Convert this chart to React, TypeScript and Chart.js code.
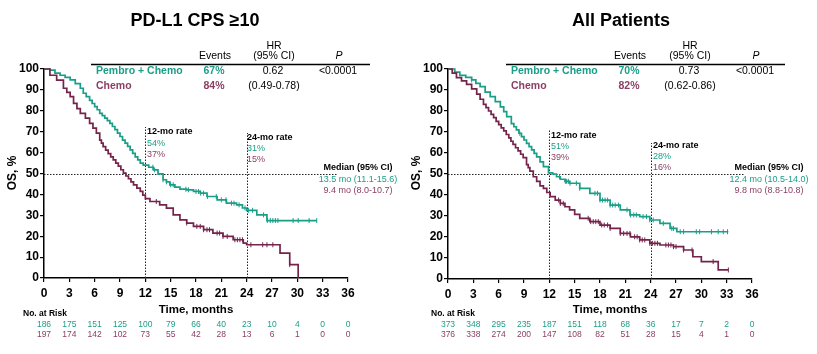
import React, { useEffect, useRef } from "react";
import { Chart, registerables } from "chart.js";
Chart.register(...registerables);

const TEAL = "#1a9e88";
const MAROON = "#74234b";
const MAROON_TEXT = "#8a4064";
const FONT = '"Liberation Sans", Arial, sans-serif';

const xTickStep = 3;

// ---------- PD-L1 CPS >= 10 ----------
const cpsPembroT = [0, 0.7, 1.3, 1.9, 2.5, 3.1, 3.7, 4.3, 4.65, 5.0, 5.4, 5.7, 6.0, 6.3, 6.6, 6.9, 7.2, 7.5, 7.8, 8.1, 8.4, 8.7, 9.0, 9.3, 9.6, 9.9, 10.2, 10.5, 10.8, 11.1, 11.4, 11.75, 12.4, 12.95, 13.5, 14.1, 14.5, 14.9, 15.5, 16.1, 16.9, 17.7, 18.5, 19.3, 20.5, 21.6, 22.8, 23.5, 24.0, 25.2, 26.4, 32.3];
const cpsPembroS = [100, 99.5, 98, 97, 96, 94.8, 93, 90.8, 88.4, 86.8, 85, 83.5, 82, 80.5, 78.8, 77.7, 76.5, 75.3, 74, 72.5, 71, 69.3, 67.7, 66, 64.5, 63, 61.3, 59.6, 58, 56.5, 55, 54, 53, 51.7, 49.8, 47, 46, 44.6, 43.5, 42.5, 42.2, 41.4, 40.6, 39, 37.4, 35.8, 35, 33.5, 32.4, 30.2, 27.5, 27.5];
const cpsPembroCens = [12.9, 13.1, 14.1, 14.5, 15.0, 15.3, 16.8, 17.1, 18.0, 18.3, 18.55, 18.9, 19.35, 20.4, 21.0, 21.55, 22.2, 22.5, 23.1, 23.8, 24.2, 24.7, 26.0, 26.45, 26.8, 27.1, 27.4, 27.7, 29.5, 30.1, 31.4, 32.3];
const cpsChemoT = [0, 0.7, 1.5, 2.3, 2.7, 3.1, 3.5, 3.9, 4.3, 4.9, 5.4, 5.8, 6.2, 6.6, 6.8, 7.0, 7.3, 7.6, 7.9, 8.2, 8.5, 8.8, 9.1, 9.4, 9.7, 10.0, 10.3, 10.6, 11.0, 11.4, 11.7, 12.0, 12.55, 13.7, 14.5, 15.3, 16.1, 16.9, 17.7, 18.9, 20.0, 21.2, 22.4, 23.6, 24.0, 27.95, 29.1, 30.1];
const cpsChemoS = [100, 97, 94.7, 90.8, 88.8, 86.8, 83.6, 81, 78.8, 76.5, 74, 71.7, 69.3, 66, 64.5, 62.9, 61.2, 59.5, 58, 56.5, 55, 53.5, 51.8, 50.2, 48.8, 47.5, 46, 44.6, 43, 41.4, 39.7, 38, 36.6, 35, 33.4, 30.2, 27.8, 26.3, 24.7, 23.1, 21.5, 19.9, 18.3, 16.7, 15.9, 11.9, 6.4, 0];
const cpsChemoCens = [13.3, 16.9, 18.1, 18.5, 18.9, 19.3, 19.6, 20.5, 20.8, 21.2, 21.7, 22.6, 22.9, 23.2, 23.5, 24.5, 25.9, 26.4, 27.1, 29.1];
const cpsRiskPembro = [186, 175, 151, 125, 100, 79, 66, 40, 23, 10, 4, 0, 0];
const cpsRiskChemo = [197, 174, 142, 102, 73, 55, 42, 28, 13, 6, 1, 0, 0];

// ---------- All Patients ----------
const allPembroT = [0, 0.8, 1.4, 2.1, 2.8, 3.3, 3.8, 4.4, 5.0, 5.6, 6.2, 6.6, 6.95, 7.5, 7.8, 8.1, 8.4, 8.7, 9.0, 9.3, 9.6, 9.9, 10.2, 10.5, 10.9, 11.3, 11.9, 12.4, 12.85, 13.3, 13.85, 14.4, 15.6, 16.8, 18.0, 19.2, 20.4, 21.55, 22.7, 23.9, 25.1, 26.3, 27.1, 33.2];
const allPembroS = [100, 98.5, 97, 96, 94.8, 93.2, 91.6, 89, 86.8, 84.5, 82, 79.7, 77.3, 74, 72.5, 71, 69.4, 67.8, 66.2, 64.6, 63, 61.5, 59.8, 58.2, 55.8, 53.5, 50.5, 50, 48.7, 47.5, 46.5, 45.6, 43.2, 40.8, 37.6, 35.2, 32.9, 30.5, 29.7, 28.1, 26.5, 24.1, 22.5, 22.5];
const allPembroCens = [2.8, 8.5, 13.2, 13.9, 14.05, 14.25, 14.45, 15.2, 15.6, 17.4, 17.7, 18.0, 18.3, 18.6, 18.9, 19.2, 19.5, 19.8, 20.2, 21.2, 21.6, 22.0, 22.3, 23.1, 23.5, 23.9, 24.3, 25.5, 26.5, 26.7, 27.5, 27.9, 29.4, 29.8, 31.2, 32.0, 32.6, 33.1];
const allChemoT = [0, 0.5, 1.0, 1.6, 2.2, 2.8, 3.4, 3.8, 4.2, 4.5, 4.8, 5.1, 5.4, 5.7, 6.0, 6.3, 6.6, 6.9, 7.2, 7.45, 7.7, 8.0, 8.3, 8.6, 8.9, 9.3, 9.5, 9.7, 10.1, 10.5, 10.9, 11.3, 11.7, 12.1, 12.7, 13.3, 13.85, 14.4, 15.0, 15.6, 16.8, 18.0, 19.2, 20.4, 21.6, 22.7, 23.9, 25.1, 26.7, 27.9, 29.0, 30.0, 32.0, 33.2];
const allChemoS = [100, 98, 95.9, 94.3, 92.7, 90.5, 88, 85.6, 83.2, 81.6, 80, 78.4, 76.8, 75.1, 73.5, 72, 70.5, 68.8, 67.2, 65.6, 64.1, 62.5, 61, 59.4, 57.8, 54.5, 53, 51.4, 48.7, 46.5, 44.3, 43.2, 41.2, 39.2, 37.6, 36, 34.4, 32.9, 30.8, 28.9, 27.3, 25.7, 24.1, 21.7, 20.1, 18.6, 17, 16.2, 15.4, 13.8, 10.6, 8.3, 4.3, 4.3];
const allChemoCens = [13.1, 13.3, 13.65, 16.6, 16.9, 17.2, 17.5, 17.8, 18.2, 18.5, 18.9, 19.2, 20.4, 20.8, 21.2, 21.55, 22.1, 22.4, 22.7, 23.0, 23.3, 23.9, 24.2, 24.5, 24.8, 25.8, 26.1, 26.4, 26.7, 27.0, 27.9, 28.9, 31.4, 33.2];
const allRiskPembro = [373, 348, 295, 235, 187, 151, 118, 68, 36, 17, 7, 2, 0];
const allRiskChemo = [376, 338, 274, 200, 147, 108, 82, 51, 28, 15, 4, 1, 0];

type Lay = {
  yAxisW: number; xAxisH: number; padRight: number;
  titleX: number; tableX1: number; tableX2: number; nameX: number;
  evX: number; hrX: number; pX: number;
  medLineEnd: number; v12Top: number; v24Top: number;
  r12x: number; r12y: number[]; r24x: number; r24y: number[];
  medX: number; osX: number; timeX: number;
};

type Panel = {
  title: string;
  events: string[]; hr: string; ci: string; p: string;
  rate12: string[]; rate24: string[];
  medPembro: string; medChemo: string;
  riskPembro: number[]; riskChemo: number[];
  pT: number[]; pS: number[]; pC: number[];
  cT: number[]; cS: number[]; cC: number[];
  lay: Lay;
};

const panels: Panel[] = [
  {
    title: "PD-L1 CPS \u226510",
    events: ["67%", "84%"], hr: "0.62", ci: "(0.49-0.78)", p: "<0.0001",
    rate12: ["54%", "37%"], rate24: ["31%", "15%"],
    medPembro: "13.5 mo (11.1-15.6)", medChemo: "9.4 mo (8.0-10.7)",
    riskPembro: cpsRiskPembro, riskChemo: cpsRiskChemo,
    pT: cpsPembroT, pS: cpsPembroS, pC: cpsPembroCens,
    cT: cpsChemoT, cS: cpsChemoS, cC: cpsChemoCens,
    lay: {
      yAxisW: 44, xAxisH: 76, padRight: 60,
      titleX: 195, tableX1: 91, tableX2: 370, nameX: 96,
      evX: 215, hrX: 274, pX: 339,
      medLineEnd: 338, v12Top: 127, v24Top: 133,
      r12x: 147, r12y: [132, 143.5, 154.5], r24x: 247, r24y: [137.5, 149, 160],
      medX: 358, osX: 13, timeX: 196,
    },
  },
  {
    title: "All Patients",
    events: ["70%", "82%"], hr: "0.73", ci: "(0.62-0.86)", p: "<0.0001",
    rate12: ["51%", "39%"], rate24: ["28%", "16%"],
    medPembro: "12.4 mo (10.5-14.0)", medChemo: "9.8 mo (8.8-10.8)",
    riskPembro: allRiskPembro, riskChemo: allRiskChemo,
    pT: allPembroT, pS: allPembroS, pC: allPembroCens,
    cT: allChemoT, cS: allChemoS, cC: allChemoCens,
    lay: {
      yAxisW: 40, xAxisH: 75, padRight: 65,
      titleX: 213, tableX1: 98, tableX2: 377, nameX: 103,
      evX: 222, hrX: 282, pX: 348,
      medLineEnd: 337, v12Top: 130, v24Top: 143,
      r12x: 143, r12y: [136, 147, 158], r24x: 245, r24y: [146, 157, 167.5],
      medX: 361, osX: 9, timeX: 202,
    },
  },
];

function survAt(ts: number[], ss: number[], t: number) {
  let v = ss[0];
  for (let i = 0; i < ts.length; i++) if (ts[i] <= t) v = ss[i];
  return v;
}

function text(ctx: CanvasRenderingContext2D, s: string, x: number, y: number, font: string, color: string, align: CanvasTextAlign = "left") {
  ctx.font = font;
  ctx.fillStyle = color;
  ctx.textAlign = align;
  ctx.textBaseline = "middle";
  ctx.fillText(s, x, y);
}

function makePlugin(p: Panel) {
  const L = p.lay;
  return {
    id: "kmDecor",
    beforeDatasetsDraw(chart: any) {
      const { ctx, chartArea, scales } = chart;
      const x = scales.x, y = scales.y;
      ctx.save();
      ctx.strokeStyle = "#222";
      ctx.lineWidth = 1;
      ctx.setLineDash([1.5, 1.5]);
      ctx.beginPath();
      const y50 = Math.round(y.getPixelForValue(50)) + 0.5;
      ctx.moveTo(chartArea.left, y50);
      ctx.lineTo(L.medLineEnd, y50);
      const x12 = Math.round(x.getPixelForValue(12)) + 0.5;
      const x24 = Math.round(x.getPixelForValue(24)) + 0.5;
      const y0 = y.getPixelForValue(0);
      ctx.moveTo(x12, y0); ctx.lineTo(x12, L.v12Top);
      ctx.moveTo(x24, y0); ctx.lineTo(x24, L.v24Top);
      ctx.stroke();
      ctx.restore();
    },
    afterDraw(chart: any) {
      const { ctx, scales } = chart;
      const x = scales.x;
      ctx.save();
      // title
      text(ctx, p.title, L.titleX, 21, `bold 18px ${FONT}`, "#000", "center");
      // table
      const tf = `10.5px ${FONT}`;
      const tb = `bold 10.5px ${FONT}`;
      text(ctx, "Events", L.evX, 56, tf, "#000", "center");
      text(ctx, "HR", L.hrX, 46, tf, "#000", "center");
      text(ctx, "(95% CI)", L.hrX, 56, tf, "#000", "center");
      text(ctx, "P", L.pX, 56, `italic 10.5px ${FONT}`, "#000", "center");
      ctx.strokeStyle = "#000";
      ctx.lineWidth = 1.5;
      ctx.setLineDash([]);
      ctx.beginPath();
      ctx.moveTo(L.tableX1, 64.5);
      ctx.lineTo(L.tableX2, 64.5);
      ctx.stroke();
      text(ctx, "Pembro + Chemo", L.nameX, 71.5, tb, TEAL);
      text(ctx, "Chemo", L.nameX, 86, tb, MAROON_TEXT);
      text(ctx, p.events[0], L.evX - 1, 71.5, tb, TEAL, "center");
      text(ctx, p.events[1], L.evX - 1, 86, tb, MAROON_TEXT, "center");
      text(ctx, p.hr, L.hrX - 1, 71.5, tf, "#000", "center");
      text(ctx, p.ci, L.hrX, 86, tf, "#000", "center");
      text(ctx, p.p, L.pX - 1, 71.5, tf, "#000", "center");
      // rates
      const rb = `bold 9px ${FONT}`;
      const rf = `9px ${FONT}`;
      text(ctx, "12-mo rate", L.r12x, L.r12y[0], rb, "#000");
      text(ctx, p.rate12[0], L.r12x, L.r12y[1], rf, TEAL);
      text(ctx, p.rate12[1], L.r12x, L.r12y[2], rf, MAROON_TEXT);
      text(ctx, "24-mo rate", L.r24x, L.r24y[0], rb, "#000");
      text(ctx, p.rate24[0], L.r24x, L.r24y[1], rf, TEAL);
      text(ctx, p.rate24[1], L.r24x, L.r24y[2], rf, MAROON_TEXT);
      // median
      text(ctx, "Median (95% CI)", L.medX, 168, `bold 9px ${FONT}`, "#000", "center");
      text(ctx, p.medPembro, L.medX, 180, `9px ${FONT}`, TEAL, "center");
      text(ctx, p.medChemo, L.medX, 191, `9px ${FONT}`, MAROON_TEXT, "center");
      // axis titles
      ctx.save();
      ctx.translate(L.osX, 173);
      ctx.rotate(-Math.PI / 2);
      text(ctx, "OS, %", 0, 0, `bold 12px ${FONT}`, "#000", "center");
      ctx.restore();
      text(ctx, "Time, months", L.timeX, 310, `bold 11.5px ${FONT}`, "#000", "center");
      // at risk
      text(ctx, "No. at Risk", 23, 314, `bold 8.5px ${FONT}`, "#000");
      p.riskPembro.forEach((v, i) => {
        text(ctx, String(v), x.getPixelForValue(i * xTickStep), 325, `8.5px ${FONT}`, TEAL, "center");
      });
      p.riskChemo.forEach((v, i) => {
        text(ctx, String(v), x.getPixelForValue(i * xTickStep), 335, `8.5px ${FONT}`, MAROON_TEXT, "center");
      });
      ctx.restore();
    },
  };
}

function KMChart({ panel, width }: { panel: Panel; width: number }) {
  const ref = useRef<HTMLCanvasElement | null>(null);
  useEffect(() => {
    if (!ref.current) return;
    const p = panel;
    const L = p.lay;
    const line = (ts: number[], ss: number[]) => ts.map((t, i) => ({ x: t, y: ss[i] }));
    const cens = (cs: number[], ts: number[], ss: number[]) => cs.map((t) => ({ x: t, y: survAt(ts, ss, t) }));
    const chart = new Chart(ref.current, {
      type: "line",
      data: {
        datasets: [
          { data: cens(p.cC, p.cT, p.cS), showLine: false, pointStyle: "line", rotation: 90, pointRadius: 2.5, borderColor: MAROON, borderWidth: 1, clip: false } as any,
          { data: line(p.cT, p.cS), stepped: "before", borderColor: MAROON, borderWidth: 1.7, pointRadius: 0, fill: false, clip: false } as any,
          { data: cens(p.pC, p.pT, p.pS), showLine: false, pointStyle: "line", rotation: 90, pointRadius: 2.5, borderColor: TEAL, borderWidth: 1, clip: false } as any,
          { data: line(p.pT, p.pS), stepped: "before", borderColor: TEAL, borderWidth: 1.7, pointRadius: 0, fill: false, clip: false } as any,
        ],
      },
      options: {
        responsive: false,
        animation: false,
        events: [],
        layout: { padding: { left: 0, top: 69, right: L.padRight, bottom: 0 } },
        plugins: { legend: { display: false }, tooltip: { enabled: false }, title: { display: false } },
        scales: {
          x: {
            type: "linear",
            min: 0,
            max: 36,
            afterFit: (s: any) => { s.height = L.xAxisH; },
            ticks: { stepSize: xTickStep, color: "#000", padding: 4, font: { family: FONT, size: 12, weight: "bold" }, maxRotation: 0 },
            grid: { display: true, drawOnChartArea: false, drawTicks: true, tickLength: 4, color: "#000", lineWidth: 1.2 },
            border: { display: true, color: "#000", width: 1.5 },
          },
          y: {
            type: "linear",
            min: 0,
            max: 100,
            afterFit: (s: any) => { s.width = L.yAxisW; },
            ticks: { stepSize: 10, color: "#000", padding: 1, font: { family: FONT, size: 12, weight: "bold" } },
            grid: { display: true, drawOnChartArea: false, drawTicks: true, tickLength: 4, color: "#000", lineWidth: 1.2 },
            border: { display: true, color: "#000", width: 1.5 },
          },
        },
      } as any,
      plugins: [makePlugin(p)],
    });
    return () => chart.destroy();
  }, [panel]);
  return <canvas ref={ref} width={width} height={354} style={{ display: "block", width, height: 354 }} />;
}

export default function App() {
  return (
    <div style={{ position: "absolute", left: 0, top: 0, width: 817, height: 354, background: "#fff", display: "flex" }}>
      <KMChart panel={panels[0]} width={408} />
      <KMChart panel={panels[1]} width={409} />
    </div>
  );
}
